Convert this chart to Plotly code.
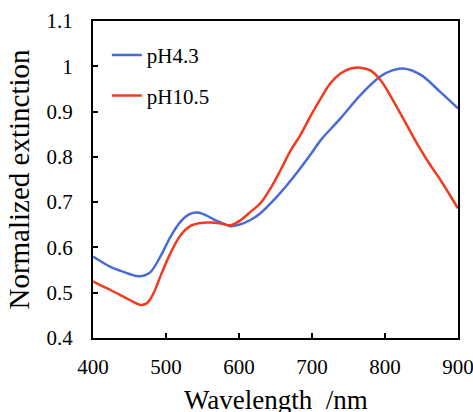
import plotly.graph_objects as go

# values
wavelength_ph43 = [400, 410, 424, 442, 460, 470, 479, 492, 506, 520, 533, 543, 555, 565,
                   575, 588, 600, 615, 629, 652, 675, 698, 712, 739, 766, 794, 810, 825,
                   848, 876, 900]
extinction_ph43 = [0.580, 0.570, 0.557, 0.546, 0.537, 0.538, 0.546, 0.579, 0.623, 0.657,
                   0.674, 0.677, 0.671, 0.662, 0.655, 0.647, 0.650, 0.660, 0.675, 0.712,
                   0.756, 0.805, 0.837, 0.885, 0.936, 0.978, 0.991, 0.995, 0.982, 0.943,
                   0.907]

wavelength_ph105 = [400, 410, 424, 442, 455, 465, 474, 483, 492, 506, 520, 533, 547, 561,
                    575, 588, 602, 616, 629, 643, 657, 670, 684, 698, 712, 725, 739, 753,
                    766, 780, 794, 807, 821, 835, 848, 862, 876, 888, 900]
extinction_ph105 = [0.525, 0.517, 0.506, 0.491, 0.480, 0.473, 0.477, 0.499, 0.535, 0.587,
                    0.627, 0.647, 0.654, 0.655, 0.653, 0.649, 0.660, 0.679, 0.697, 0.730,
                    0.771, 0.812, 0.848, 0.890, 0.929, 0.962, 0.984, 0.995, 0.997, 0.991,
                    0.969, 0.936, 0.896, 0.855, 0.818, 0.782, 0.749, 0.718, 0.686]

x_ticks = [400, 500, 600, 700, 800, 900]
y_ticks = [0.4, 0.5, 0.6, 0.7, 0.8, 0.9, 1.0, 1.1]
y_tick_labels = ["0.4", "0.5", "0.6", "0.7", "0.8", "0.9", "1", "1.1"]

serif = "Liberation Serif, Times New Roman, serif"

fig = go.Figure()
fig.add_trace(go.Scatter(x=wavelength_ph43, y=extinction_ph43, mode="lines", name="pH4.3",
                         legendgroup="a", line=dict(color="#4A6BD6", width=2.5, shape="spline")))
fig.add_trace(go.Scatter(x=wavelength_ph105, y=extinction_ph105, mode="lines", name="pH10.5",
                         legendgroup="b", line=dict(color="#F23A1E", width=2.5, shape="spline")))

axis_common = dict(showline=True, linecolor="black", linewidth=2, mirror=True,
                   showgrid=False, zeroline=False, ticks="inside", ticklen=5,
                   tickwidth=1.5, tickcolor="black", automargin=False,
                   ticklabeloverflow="allow",
                   tickfont=dict(family=serif, size=21, color="black"))

fig.update_xaxes(range=[400, 900], tickvals=x_ticks, ticklabelstandoff=9, **axis_common)
fig.update_yaxes(range=[0.4, 1.1], tickvals=y_ticks, ticktext=y_tick_labels,
                 title=dict(text="Normalized extinction", font=dict(family=serif, size=29, color="black"),
                            standoff=8),
                 ticklabelstandoff=14, **axis_common)

# x title as an annotation: an axis title is kept inside the margin, the reference one runs off the bottom
fig.add_annotation(text="Wavelength  /nm", x=0.5, y=-0.142, xref="paper", yref="paper",
                   xanchor="center", yanchor="top", showarrow=False,
                   font=dict(family=serif, size=27, color="black"))

fig.update_layout(
    width=473, height=412,
    margin=dict(l=93, r=15, t=21, b=74),
    plot_bgcolor="white", paper_bgcolor="white",
    legend=dict(x=0.038, y=0.956, xanchor="left", yanchor="top", bgcolor="rgba(0,0,0,0)",
                font=dict(family=serif, size=21, color="black"), tracegroupgap=10),
)

# drop the default body margin so the figure fills the window without scrollbars
fig.write_html("out.html", config={"displayModeBar": False},
               post_script="document.body.style.margin='0';document.body.style.overflow='hidden';")
